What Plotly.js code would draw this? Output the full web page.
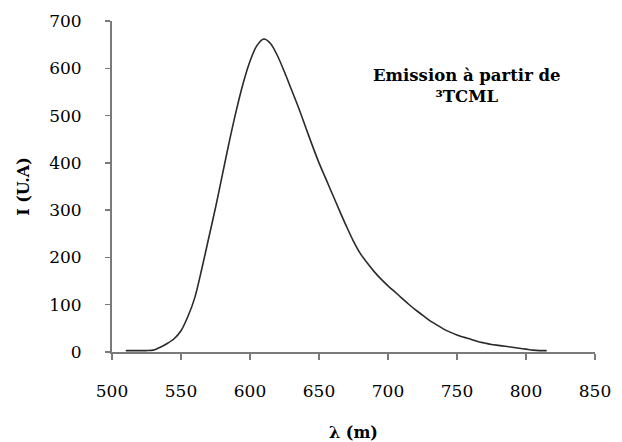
<!DOCTYPE html>
<html>
<head>
<meta charset="utf-8">
<script src="https://cdn.plot.ly/plotly-3.0.1.min.js"></script>
<style>html,body{margin:0;padding:0;background:#fff;}#chart{width:622px;height:442px;}</style>
</head>
<body>
<div id="chart"></div>
<script>
const wavelength = [510,515,520,525,530,535,540,545,550,555,560,565,570,575,580,585,590,595,600,605,610,615,620,625,630,635,640,645,650,655,660,665,670,675,680,685,690,695,700,705,710,715,720,725,730,735,740,745,750,755,760,765,770,775,780,785,790,795,800,805,810,815];
const intensity = [3,3,3,3,4,10,18,28,45,75,115,175,240,305,375,445,510,568,615,648,662,652,626,592,555,518,478,438,400,366,332,298,265,234,208,188,170,154,140,127,114,101,89,78,67,58,49,42,36,31,27,22,19,16,14,12,10,8,6,4,3,3];
const xTicks = [500,550,600,650,700,750,800,850];
const yTicks = [0,100,200,300,400,500,600,700];

const serif = 'DejaVu Serif';
const data = [{
  x: wavelength, y: intensity, type: 'scatter', mode: 'lines',
  line: {color: '#2a2a2a', width: 1.6, shape: 'spline', smoothing: 0.8}, hoverinfo: 'skip'
}];
const layout = {
  width: 622, height: 442,
  margin: {l: 112, r: 27, t: 21, b: 90},
  paper_bgcolor: '#fff', plot_bgcolor: '#fff',
  showlegend: false,
  font: {family: serif, color: '#000', size: 17},
  xaxis: {
    range: [500, 850], tickvals: xTicks, ticktext: xTicks.map(String),
    showgrid: false, zeroline: false, showline: true, linecolor: '#7a7a7a', linewidth: 2,
    ticks: 'outside', ticklen: 6, tickwidth: 1.5, tickcolor: '#7a7a7a',
    ticklabelstandoff: 17,
    tickfont: {family: serif, size: 17, color: '#000'},
    title: {text: '<b>λ (m)</b>', font: {family: serif, size: 16, color: '#000'}, standoff: 28},
    automargin: false, fixedrange: true
  },
  yaxis: {
    range: [0, 700], tickvals: yTicks, ticktext: yTicks.map(String),
    showgrid: false, zeroline: false, showline: true, linecolor: '#7a7a7a', linewidth: 2,
    ticks: 'outside', ticklen: 5, tickwidth: 1.5, tickcolor: '#7a7a7a',
    ticklabelstandoff: 20,
    tickfont: {family: serif, size: 17, color: '#000'},
    title: {text: '<b>I (U.A)</b>', font: {family: serif, size: 16, color: '#000'}, standoff: 16},
    automargin: false, fixedrange: true
  },
  annotations: [{
    xref: 'paper', yref: 'paper', x: 0.735, y: 0.804,
    xanchor: 'center', yanchor: 'middle', showarrow: false, align: 'center',
    text: '<b>Emission à partir de<br>³TCML</b>',
    font: {family: serif, size: 16.5, color: '#000'}
  }]
};
Plotly.newPlot('chart', data, layout, {displayModeBar: false, staticPlot: true});
</script>
</body>
</html>
